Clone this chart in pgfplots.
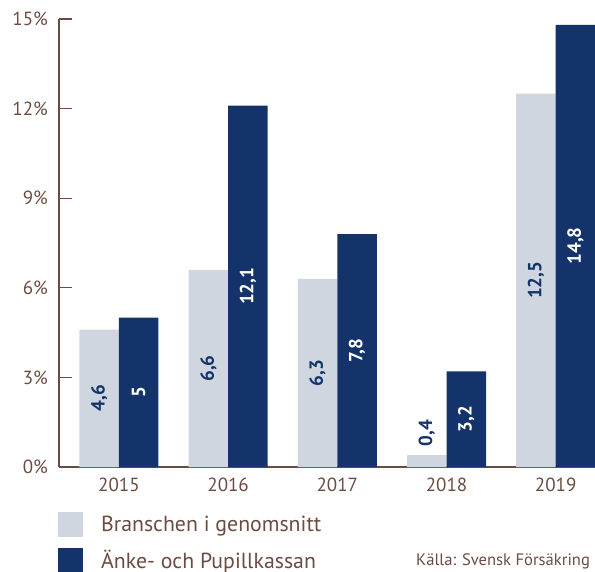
\documentclass[border=0pt]{standalone}
\usepackage{pgfplots}
\pgfplotsset{compat=1.18}
\usepackage{fontspec}
\setmainfont{PT Sans}
\definecolor{lightbar}{HTML}{CFD6E0}
\definecolor{darkbar}{HTML}{14336A}
\definecolor{txtbrown}{HTML}{6B4C42}
\begin{document}
\begin{tikzpicture}
\useasboundingbox (0,0) rectangle (595pt,571pt);
\begin{axis}[
  at={(59pt,104pt)}, anchor=south west,
  scale only axis, width=536pt, height=448pt,
  clip=false,
  ybar=0pt, bar width=39.5pt,
  xmin=-0.549, xmax=4.36, ymin=0, ymax=15,
  axis x line=bottom, axis y line=left,
  axis line style={-, draw=txtbrown, line width=1.3pt},
  xtick={0,...,4}, xticklabels={2015,2016,2017,2018,2019},
  ytick={0,3,...,15},
  major tick length=13pt,
  tick align=inside,
  x tick style={draw=none},
  y tick style={draw=txtbrown, line width=1.3pt},
  yticklabel={\pgfmathprintnumber[assume math mode=true]{\tick}\%},
  ticklabel style={font=\fontsize{19}{22}\selectfont, text=txtbrown, inner sep=0pt},
  yticklabel style={xshift=-11pt},
  xticklabel style={yshift=-11pt},
  /pgf/number format/use comma,
  visualization depends on={rawy \as \rawy},
  nodes near coords={\pgfmathprintnumber[assume math mode=true]{\pgfplotspointmeta}},
  every node near coord/.append style={font=\bfseries\fontsize{19}{22}\selectfont, anchor=center, inner sep=0pt, yshift={\rawy<2 ? 22 : -\rawy*14.9333}, rotate=90},
  legend style={at={(axis description cs:-0.0019,-0.10)}, anchor=north west, draw=none, fill=none, inner sep=0pt, row sep=11pt, font=\fontsize{21.8}{24}\selectfont, text=txtbrown, cells={anchor=west}, /tikz/every odd column/.append style={column sep=16pt}},
  legend image code/.code={\fill[#1] (0pt,-12.5pt) rectangle (25pt,12.5pt);},
]
\addplot[fill=lightbar, draw=none, every node near coord/.append style={text=darkbar}] coordinates {(0,4.6)(1,6.6)(2,6.3)(3,0.4)(4,12.5)};
\addplot[fill=darkbar, draw=none, every node near coord/.append style={text=white}] coordinates {(0,5)(1,12.1)(2,7.8)(3,3.2)(4,14.8)};
\legend{Branschen i genomsnitt, Änke- och Pupillkassan}
\node[anchor=east, font=\fontsize{16.6}{19}\selectfont, text=txtbrown, inner sep=0pt] at (axis description cs:0.991,-0.21) {Källa: Svensk Försäkring};
\end{axis}
\end{tikzpicture}
\end{document}
